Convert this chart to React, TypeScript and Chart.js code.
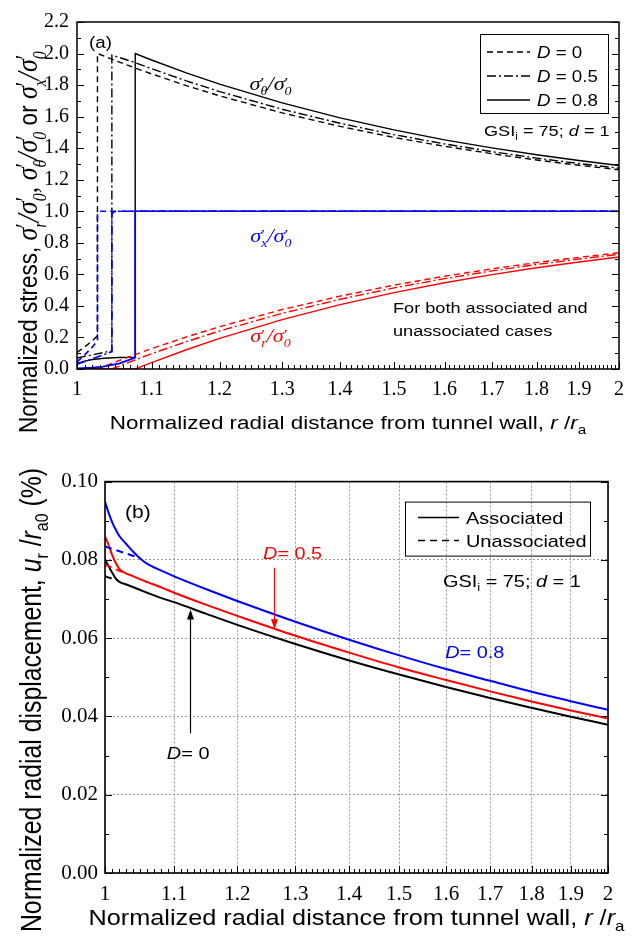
import React, { useEffect, useRef } from 'react';
import { Chart, registerables } from 'chart.js';

Chart.register(...registerables);

// ---------------- shared x axis (log scale r/ra) ----------------
const X_TICKS = [1, 1.1, 1.2, 1.3, 1.4, 1.5, 1.6, 1.7, 1.8, 1.9, 2];
const X_TICK_LABELS = ['1', '1.1', '1.2', '1.3', '1.4', '1.5', '1.6', '1.7', '1.8', '1.9', '2'];

// ---------------- panel (a): normalized stresses ----------------
const A_Y_TICKS = [0, 0.2, 0.4, 0.6, 0.8, 1.0, 1.2, 1.4, 1.6, 1.8, 2.0, 2.2];
const A_Y_LABELS = ['0.0', '0.2', '0.4', '0.6', '0.8', '1.0', '1.2', '1.4', '1.6', '1.8', '2.0', '2.2'];
const A_LEGEND = ['0', '0.5', '0.8'];

// D = 0
const A_R_PL_D0 = [1.0, 1.01, 1.02, 1.0265];
const A_TH_PL_D0 = [0.105, 0.14, 0.18, 0.21];
const A_SX_PL_D0 = [0.045, 0.09, 0.14, 0.18];
const A_R_EL_D0 = [1.0265, 1.05, 1.075, 1.1, 1.15, 1.2, 1.3, 1.4, 1.5, 1.6, 1.7, 1.8, 1.9, 2.0];
const A_TH_EL_D0 = [2.0, 1.956, 1.912, 1.871, 1.797, 1.732, 1.624, 1.538, 1.468, 1.412, 1.365, 1.325, 1.292, 1.263];
const A_SR_EL_D0 = [0, 0.044, 0.088, 0.129, 0.203, 0.268, 0.377, 0.462, 0.532, 0.588, 0.635, 0.675, 0.708, 0.737];
const A_R_SXTOP_D0 = [1.0265, 1.031, 2.0];

// D = 0.5
const A_R_PL_D5 = [1.0, 1.02, 1.0456];
const A_TH_PL_D5 = [0.07, 0.09, 0.115];
const A_SX_PL_D5 = [0.03, 0.065, 0.11];
const A_R_EL_D5 = [1.0456, 1.075, 1.1, 1.15, 1.2, 1.3, 1.4, 1.5, 1.6, 1.7, 1.8, 1.9, 2.0];
const A_TH_EL_D5 = [1.99, 1.946, 1.904, 1.827, 1.759, 1.647, 1.558, 1.486, 1.427, 1.378, 1.337, 1.303, 1.273];
const A_SR_EL_D5 = [0, 0.054, 0.097, 0.173, 0.241, 0.353, 0.442, 0.514, 0.573, 0.622, 0.663, 0.697, 0.727];
const A_R_SXTOP_D5 = [1.0456, 1.05, 2.0];

// D = 0.8
const A_R_PL_D8 = [1.0, 1.01, 1.02, 1.035, 1.055, 1.0773];
const A_TH_PL_D8 = [0.035, 0.05, 0.06, 0.068, 0.073, 0.075];
const A_R_SXPL_D8 = [1.0, 1.02, 1.034, 1.056, 1.0773];
const A_SX_PL_D8 = [0.004, 0.009, 0.015, 0.036, 0.072];
const A_R_EL_D8 = [1.0773, 1.1, 1.15, 1.2, 1.3, 1.4, 1.5, 1.6, 1.7, 1.8, 1.9, 2.0];
const A_TH_EL_D8 = [2.0, 1.959, 1.878, 1.806, 1.687, 1.592, 1.516, 1.453, 1.402, 1.358, 1.322, 1.29];
const A_SR_EL_D8 = [0, 0.041, 0.122, 0.194, 0.313, 0.408, 0.484, 0.547, 0.598, 0.642, 0.678, 0.71];
const A_R_SXTOP_D8 = [1.0773, 1.0773, 2.0];

const A_SX_TOP = [0.985, 1.0, 1.0];
const A_R_SR_PL = [1.0];
const A_SR_PL = [0];

// label anchors (r, value)
const A_POS_THETA = [1.247, 1.8];
const A_POS_SX = [1.248, 0.837];
const A_POS_SR = [1.248, 0.203];
const A_POS_NOTE = [1.498, 0.387, 0.241];

// ---------------- panel (b): normalized radial displacement ----------------
const B_Y_TICKS = [0, 0.02, 0.04, 0.06, 0.08, 0.1];
const B_Y_LABELS = ['0.00', '0.02', '0.04', '0.06', '0.08', '0.10'];

const B_R = [1.0, 1.005, 1.01, 1.015, 1.02, 1.03, 1.04, 1.05, 1.06, 1.08, 1.1, 1.15, 1.2, 1.3, 1.4, 1.5, 1.6, 1.7, 1.8, 1.9, 2.0];
const B_ASSOC_D0 = [0.0801, 0.0784, 0.0767, 0.0752, 0.0744, 0.0737, 0.073, 0.0723, 0.0716, 0.0703, 0.0692, 0.0662, 0.0634, 0.0585, 0.0543, 0.0507, 0.0475, 0.0447, 0.0422, 0.0399, 0.0379];
const B_ASSOC_D5 = [0.086, 0.0838, 0.0812, 0.0792, 0.0777, 0.0765, 0.0758, 0.075, 0.0743, 0.073, 0.0716, 0.0685, 0.0657, 0.0606, 0.0563, 0.0525, 0.0493, 0.0464, 0.0438, 0.0415, 0.0395];
const B_ASSOC_D8 = [0.0949, 0.092, 0.0896, 0.0877, 0.0861, 0.084, 0.082, 0.0803, 0.079, 0.0773, 0.0758, 0.0725, 0.0695, 0.0642, 0.0596, 0.0556, 0.0521, 0.0491, 0.0463, 0.0439, 0.0417];

const B_R_UN_D0 = [1.0, 1.01, 1.017];
const B_UN_D0 = [0.0758, 0.0752, 0.0748];
const B_R_UN_D5 = [1.0, 1.01, 1.02, 1.03];
const B_UN_D5 = [0.0788, 0.078, 0.0772, 0.0765];
const B_R_UN_D8 = [1.0, 1.02, 1.04, 1.05];
const B_UN_D8 = [0.0834, 0.0822, 0.081, 0.0803];

const B_LEGEND = ['Associated', 'Unassociated'];
// annotation anchors (r, value)
const B_ARROW_D5 = [1.2624, 0.078, 0.0623];
const B_ARROW_D0 = [1.1243, 0.0357, 0.0673];
const B_POS_D5 = [1.2433, 0.0818];
const B_POS_D8 = [1.598, 0.0565];
const B_POS_D0 = [1.089, 0.0306];

// ---------------- styles ----------------
const BLACK = '#000000';
const BLUE = '#0000ff';
const RED = '#ff0000';
const DASH = [6, 4];
const DASHDOT = [9, 3, 2, 3];
const SX = 1.17;
const SANS = '"Liberation Sans", Arial, sans-serif';
const SERIF = '"Liberation Serif", "Times New Roman", serif';

const pts = (xs: number[], ys: number[]) => xs.map((x, i) => ({ x, y: ys[i] }));
const ds = (xs: number[], ys: number[], color: string, dash: number[], width: number, smooth = false) => ({
  data: pts(xs, ys),
  showLine: true,
  borderColor: color,
  backgroundColor: color,
  borderDash: dash,
  borderWidth: width,
  pointRadius: 0,
  tension: 0,
  cubicInterpolationMode: smooth ? 'monotone' : 'default',
  fill: false,
});

// ---------- rich text helper ----------
type Run = { t?: string; font?: string; dy?: number; color?: string; sup?: string; sub?: string; supFont?: string; subFont?: string; supDy?: number; subDy?: number };

function runWidth(ctx: CanvasRenderingContext2D, r: Run) {
  if (r.t !== undefined) { ctx.font = r.font!; return ctx.measureText(r.t).width; }
  let w = 0;
  if (r.sup) { ctx.font = r.supFont!; w = Math.max(w, ctx.measureText(r.sup).width); }
  if (r.sub) { ctx.font = r.subFont!; w = Math.max(w, ctx.measureText(r.sub).width); }
  return w;
}

function drawRuns(ctx: CanvasRenderingContext2D, runs: Run[], x: number, y: number, align: string, rotate = false, color = '#000') {
  ctx.save();
  ctx.translate(x, y);
  if (rotate) { ctx.rotate(-Math.PI / 2); ctx.scale(1, SX); } else { ctx.scale(SX, 1); }
  const widths = runs.map((r) => runWidth(ctx, r));
  const total = widths.reduce((a, b) => a + b, 0);
  let cx = align === 'center' ? -total / 2 : align === 'right' ? -total : 0;
  ctx.textAlign = 'left';
  ctx.textBaseline = 'alphabetic';
  runs.forEach((r, i) => {
    ctx.fillStyle = r.color || color;
    if (r.t !== undefined) {
      ctx.font = r.font!;
      ctx.fillText(r.t, cx, r.dy || 0);
    } else {
      if (r.sup) { ctx.font = r.supFont!; ctx.fillText(r.sup, cx, r.supDy || 0); }
      if (r.sub) { ctx.font = r.subFont!; ctx.fillText(r.sub, cx, r.subDy || 0); }
    }
    cx += widths[i];
  });
  ctx.restore();
}

const sig = (sub: string, s: number): Run[] => [
  { t: 'σ', font: `italic ${s}px ${SERIF}` },
  { sup: '′', sub, supFont: `${Math.round(s * 0.8)}px ${SERIF}`, subFont: `italic ${Math.round(s * 0.62)}px ${SERIF}`, supDy: -s * 0.12, subDy: s * 0.28 },
];
const sigFrac = (sub: string, s: number): Run[] => [
  ...sig(sub, s),
  { t: '/', font: `italic ${s}px ${SERIF}` },
  ...sig('0', s),
];
const txt = (t: string, s: number, italic = false): Run => ({ t, font: `${italic ? 'italic ' : ''}${s}px ${SANS}` });
const sub = (t: string, s: number, dy: number): Run => ({ t, font: `${s}px ${SANS}`, dy });

function drawFrame(ctx: CanvasRenderingContext2D, ca: any, lw: number) {
  ctx.save();
  ctx.strokeStyle = '#000';
  ctx.lineWidth = lw;
  ctx.strokeRect(ca.left, ca.top, ca.right - ca.left, ca.bottom - ca.top);
  ctx.restore();
}

function drawTicks(ctx: CanvasRenderingContext2D, ca: any, xs: any, ys: any, xMaj: number[], xMin: number[], yMaj: number[], yMin: number[], lMaj: number, lMin: number) {
  ctx.save();
  ctx.strokeStyle = '#000';
  ctx.lineWidth = 1;
  ctx.beginPath();
  const vx = (v: number, l: number) => {
    const p = Math.round(xs.getPixelForValue(v)) + 0.5;
    ctx.moveTo(p, ca.bottom); ctx.lineTo(p, ca.bottom - l);
  };
  const vy = (v: number, l: number) => {
    const p = Math.round(ys.getPixelForValue(v)) + 0.5;
    ctx.moveTo(ca.left, p); ctx.lineTo(ca.left + l, p);
    ctx.moveTo(ca.right, p); ctx.lineTo(ca.right - l, p);
  };
  xMaj.forEach((v) => vx(v, lMaj));
  xMin.forEach((v) => vx(v, lMin));
  yMaj.forEach((v) => vy(v, lMaj));
  yMin.forEach((v) => vy(v, lMin));
  ctx.stroke();
  ctx.restore();
}

function hLine(ctx: CanvasRenderingContext2D, x1: number, x2: number, y: number, color: string, dash: number[], lw: number) {
  ctx.save();
  ctx.strokeStyle = color;
  ctx.lineWidth = lw;
  ctx.setLineDash(dash);
  ctx.beginPath();
  ctx.moveTo(x1, y);
  ctx.lineTo(x2, y);
  ctx.stroke();
  ctx.restore();
}

function arrow(ctx: CanvasRenderingContext2D, x: number, y1: number, y2: number, color: string) {
  ctx.save();
  ctx.strokeStyle = color;
  ctx.fillStyle = color;
  ctx.lineWidth = 1.2;
  const dir = y2 > y1 ? 1 : -1;
  ctx.beginPath();
  ctx.moveTo(x, y1);
  ctx.lineTo(x, y2 - dir * 8);
  ctx.stroke();
  ctx.beginPath();
  ctx.moveTo(x, y2);
  ctx.lineTo(x - 3.5, y2 - dir * 10);
  ctx.lineTo(x + 3.5, y2 - dir * 10);
  ctx.closePath();
  ctx.fill();
  ctx.restore();
}

const X_MINOR: number[] = [];
for (let i = 101; i < 200; i++) if (i % 10 !== 0) X_MINOR.push(i / 100);
const A_Y_MINOR: number[] = [];
for (let i = 1; i < 22; i += 2) A_Y_MINOR.push(i / 10);
const B_Y_MINOR: number[] = [];
for (let i = 1; i < 10; i += 2) B_Y_MINOR.push(i / 100);

function xScale(h: number, bottom: number, grid: boolean, size: number, pad: number) {
  return {
    type: 'logarithmic',
    min: 1,
    max: 2,
    afterBuildTicks: (s: any) => { s.ticks = X_TICKS.map((v) => ({ value: v })); },
    afterFit: (s: any) => { s.height = h - bottom; },
    ticks: {
      autoSkip: false, maxRotation: 0, minRotation: 0, padding: pad, color: '#000',
      font: { family: SERIF, size },
      callback: (_v: any, i: number) => X_TICK_LABELS[i],
    },
    grid: { display: grid, drawTicks: false, color: '#9a9a9a', lineWidth: 1 },
    border: { display: false, dash: [2, 2] },
  };
}

function yScale(ticks: number[], labels: string[], width: number, grid: boolean, size: number, pad: number) {
  return {
    type: 'linear',
    min: ticks[0],
    max: ticks[ticks.length - 1],
    afterBuildTicks: (s: any) => { s.ticks = ticks.map((v) => ({ value: v })); },
    afterFit: (s: any) => { s.width = width; },
    ticks: {
      autoSkip: false, padding: pad, color: '#000',
      font: { family: SERIF, size },
      callback: (_v: any, i: number) => labels[i],
    },
    grid: { display: grid, drawTicks: false, color: '#9a9a9a', lineWidth: 1 },
    border: { display: false, dash: [2, 2] },
  };
}

function configA(): any {
  const W = 1.4;
  const datasets = [
    ds([...A_R_SXPL_D8, ...A_R_SXTOP_D8], [...A_SX_PL_D8, ...A_SX_TOP], BLUE, [], W + 0.3),
    ds([...A_R_PL_D5, ...A_R_SXTOP_D5], [...A_SX_PL_D5, ...A_SX_TOP], BLUE, DASHDOT, W + 0.3),
    ds([...A_R_PL_D0, ...A_R_SXTOP_D0], [...A_SX_PL_D0, ...A_SX_TOP], BLUE, DASH, W + 0.3),
    ds([...A_R_SR_PL, ...A_R_EL_D8], [...A_SR_PL, ...A_SR_EL_D8], RED, [], W),
    ds([...A_R_SR_PL, ...A_R_EL_D5], [...A_SR_PL, ...A_SR_EL_D5], RED, DASHDOT, W),
    ds([...A_R_SR_PL, ...A_R_EL_D0], [...A_SR_PL, ...A_SR_EL_D0], RED, DASH, W),
    ds([...A_R_PL_D8, ...A_R_EL_D8], [...A_TH_PL_D8, ...A_TH_EL_D8], BLACK, [], W),
    ds([...A_R_PL_D5, ...A_R_EL_D5], [...A_TH_PL_D5, ...A_TH_EL_D5], BLACK, DASHDOT, W),
    ds([...A_R_PL_D0, ...A_R_EL_D0], [...A_TH_PL_D0, ...A_TH_EL_D0], BLACK, DASH, W),
  ];
  const deco = {
    id: 'decoA',
    afterDraw(chart: any) {
      const { ctx, chartArea: ca, scales } = chart;
      const xs = scales.x, ys = scales.y;
      drawFrame(ctx, ca, 1.5);
      drawTicks(ctx, ca, xs, ys, X_TICKS, X_MINOR, A_Y_TICKS, A_Y_MINOR, 7, 4);

      // legend
      const bl = ca.right - 139, bt = ca.top + 12;
      ctx.save();
      ctx.strokeStyle = '#000'; ctx.lineWidth = 1;
      ctx.strokeRect(bl + 0.5, bt + 0.5, 128, 79);
      ctx.restore();
      const styles = [DASH, DASHDOT, []];
      A_LEGEND.forEach((lab, i) => {
        const y = bt + 18 + i * 24;
        hLine(ctx, bl + 7, bl + 50, y, BLACK, styles[i], 1.4);
        drawRuns(ctx, [txt('D', 16, true), txt(' = ' + lab, 16)], bl + 57, y + 6, 'left');
      });
      // GSI
      drawRuns(ctx, [txt('GSI', 15.5), sub('i', 10, 4), txt(' = 75; ', 15.5), txt('d', 15.5, true), txt(' = 1', 15.5)], ca.right - 135, ca.top + 114, 'left');
      // (a)
      drawRuns(ctx, [txt('(a)', 16)], ca.left + 12, ca.top + 26, 'left');

      // curve labels
      const px = (r: number) => xs.getPixelForValue(r);
      const py = (v: number) => ys.getPixelForValue(v);
      drawRuns(ctx, sigFrac('θ', 19), px(A_POS_THETA[0]), py(A_POS_THETA[1]) + 5, 'left', false, BLACK);
      drawRuns(ctx, sigFrac('x', 19), px(A_POS_SX[0]), py(A_POS_SX[1]) + 5, 'left', false, BLUE);
      drawRuns(ctx, sigFrac('r', 19), px(A_POS_SR[0]), py(A_POS_SR[1]) + 5, 'left', false, RED);
      drawRuns(ctx, [txt('For both associated and', 15.5)], px(A_POS_NOTE[0]), py(A_POS_NOTE[1]) + 5.5, 'left');
      drawRuns(ctx, [txt('unassociated cases', 15.5)], px(A_POS_NOTE[0]), py(A_POS_NOTE[2]) + 5.5, 'left');

      // axis titles
      drawRuns(ctx, [txt('Normalized radial distance from tunnel wall, ', 19.2), txt('r', 19.2, true), txt(' /', 19.2), txt('r', 19.2, true), sub('a', 13, 5)],
        (ca.left + ca.right) / 2, ca.bottom + 60, 'center');
      const yRuns: Run[] = [
        txt('Normalized stress, ', 22.5),
        ...sigFrac('r', 26), { t: ', ', font: `26px ${SERIF}` },
        ...sigFrac('θ', 26), txt(' or ', 22.5),
        ...sigFrac('x', 26),
      ];
      drawRuns(ctx, yRuns, 37, ca.bottom + 64, 'left', true);
    },
  };
  return {
    type: 'scatter',
    data: { datasets },
    options: {
      responsive: false,
      animation: false,
      devicePixelRatio: 1,
      events: [],
      layout: { padding: { left: 0, top: 22, right: 7, bottom: 0 } },
      plugins: { legend: { display: false }, tooltip: { enabled: false } },
      scales: {
        x: xScale(462, 369, false, 20, 9),
        y: yScale(A_Y_TICKS, A_Y_LABELS, 77, false, 20, 8),
      },
    },
    plugins: [deco],
  };
}

function configB(): any {
  const W = 2;
  const datasets = [
    ds(B_R_UN_D8, B_UN_D8, BLUE, [7, 5], W, true),
    ds(B_R, B_ASSOC_D8, BLUE, [], W, true),
    ds(B_R_UN_D5, B_UN_D5, RED, [7, 5], W, true),
    ds(B_R, B_ASSOC_D5, RED, [], W, true),
    ds(B_R_UN_D0, B_UN_D0, BLACK, [7, 5], W, true),
    ds(B_R, B_ASSOC_D0, BLACK, [], W, true),
  ];
  const deco = {
    id: 'decoB',
    afterDraw(chart: any) {
      const { ctx, chartArea: ca, scales } = chart;
      const xs = scales.x, ys = scales.y;
      drawFrame(ctx, ca, 1.6);
      drawTicks(ctx, ca, xs, ys, X_TICKS, X_MINOR, B_Y_TICKS, B_Y_MINOR, 7, 4);

      // legend
      const bl = ca.right - 203, bt = ca.top + 20;
      ctx.save();
      ctx.strokeStyle = '#000'; ctx.lineWidth = 1;
      ctx.strokeRect(bl + 0.5, bt + 0.5, 185, 54);
      ctx.restore();
      const styles = [[], [7, 5]];
      B_LEGEND.forEach((lab, i) => {
        const y = bt + 16 + i * 23;
        hLine(ctx, bl + 13, bl + 54, y, BLACK, styles[i], 1.5);
        drawRuns(ctx, [txt(lab, 17)], bl + 61, y + 6, 'left');
      });
      drawRuns(ctx, [txt('GSI', 17), sub('i', 11, 4.5), txt(' = 75; ', 17), txt('d', 17, true), txt(' = 1', 17)], ca.right - 165, ca.top + 105, 'left');
      drawRuns(ctx, [txt('(b)', 18)], ca.left + 20, ca.top + 36.5, 'left');

      const px = (r: number) => xs.getPixelForValue(r);
      const py = (v: number) => ys.getPixelForValue(v);
      arrow(ctx, Math.round(px(B_ARROW_D5[0])) + 0.5, py(B_ARROW_D5[1]), py(B_ARROW_D5[2]), RED);
      arrow(ctx, Math.round(px(B_ARROW_D0[0])) + 0.5, py(B_ARROW_D0[1]), py(B_ARROW_D0[2]), BLACK);
      drawRuns(ctx, [txt('D', 17, true), txt('= 0.5', 17)], px(B_POS_D5[0]), py(B_POS_D5[1]) + 6, 'left', false, RED);
      drawRuns(ctx, [txt('D', 17, true), txt('= 0.8', 17)], px(B_POS_D8[0]), py(B_POS_D8[1]) + 6, 'left', false, BLUE);
      drawRuns(ctx, [txt('D', 17, true), txt('= 0', 17)], px(B_POS_D0[0]), py(B_POS_D0[1]) + 6, 'left', false, BLACK);

      drawRuns(ctx, [txt('Normalized radial distance from tunnel wall, ', 21.6), txt('r', 21.6, true), txt(' /', 21.6), txt('r', 21.6, true), sub('a', 14.5, 6)],
        (ca.left + ca.right) / 2, ca.bottom + 52, 'center');
      drawRuns(ctx, [txt('Normalized radial displacement, ', 24.8), txt('u', 24.8, true), sub('r', 16, 6), txt(' /', 24.8), txt('r', 24.8, true), sub('a0', 16, 6), txt(' (%)', 24.8)],
        41, ca.bottom - 173, 'center', true);
    },
  };
  return {
    type: 'scatter',
    data: { datasets },
    options: {
      responsive: false,
      animation: false,
      devicePixelRatio: 1,
      events: [],
      layout: { padding: { left: 0, top: 16, right: 25, bottom: 0 } },
      plugins: { legend: { display: false }, tooltip: { enabled: false } },
      scales: {
        x: xScale(480, 411, true, 21, 9),
        y: yScale(B_Y_TICKS, B_Y_LABELS, 105, true, 21, 7),
      },
    },
    plugins: [deco],
  };
}

export default function App() {
  const refA = useRef<HTMLCanvasElement>(null);
  const refB = useRef<HTMLCanvasElement>(null);
  useEffect(() => {
    const ca = new Chart(refA.current as HTMLCanvasElement, configA());
    const cb = new Chart(refB.current as HTMLCanvasElement, configB());
    return () => { ca.destroy(); cb.destroy(); };
  }, []);
  return (
    <div style={{ position: 'absolute', left: 0, top: 0, width: 633, height: 942, background: '#fff' }}>
      <canvas ref={refA} width={633} height={462} style={{ display: 'block', width: 633, height: 462 }} />
      <canvas ref={refB} width={633} height={480} style={{ display: 'block', width: 633, height: 480 }} />
    </div>
  );
}
